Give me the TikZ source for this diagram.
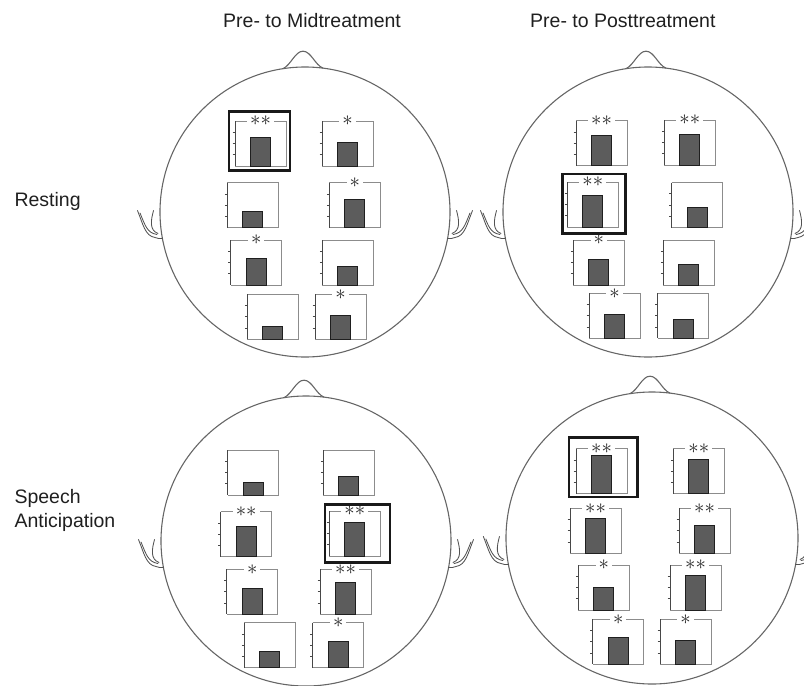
\documentclass[tikz,border=0pt]{standalone}
\usepackage{fontspec}
\setmainfont{Liberation Sans}
\tikzset{
 headline/.style={draw=black!60, line width=1.1pt},
 earline/.style={draw=black!68, line width=0.85pt, line cap=round},
 boxline/.style={draw=black!45, line width=0.75pt},
 axisline/.style={draw=black!72, line width=0.8pt},
 barfill/.style={fill=black!64, draw=black!88, line width=0.8pt},
 starlbl/.style={fill=white, inner xsep=3pt, inner ysep=0.5pt, text=black!85, font=\fontsize{21}{21}\selectfont},
 hilite/.style={draw=black!90, line width=2.8pt},
 lbl/.style={font=\fontsize{19.5}{23}\selectfont, text=black!88, inner sep=0pt}
}
\newcommand\barchart[4]{%
 \begin{scope}[shift={(#1,#2)}]
 \draw[boxline] (0,0) -- (51,0) -- (51,45) -- (0,45);
 \draw[axisline] (0,0) -- (0,45);
 \foreach \t in {11.25,22.5,33.75} \draw[axisline] (-2.5,\t) -- (0,\t);
 \draw[barfill] (15.3,{#3-#2}) rectangle (35.3,45);
 \ifnum#4>0 \node[starlbl] at (25.5,0) {\ifnum#4=1 $\ast$\else ${\ast}{\ast}$\fi};\fi
 \end{scope}}
\newcommand\earshape{%
 \draw[earline] (-167.5,-1.5) .. controls (-162,12) and (-160,24) .. (-150,25.5) .. controls (-147,26.5) and (-145,27) .. (-142.6,26.5);
 \draw[earline] (-165,1) .. controls (-160,13) and (-158,21) .. (-148,22.5);
 \draw[earline] (-151.5,-1.5) .. controls (-154,8) and (-156,18) .. (-147,21.5);}
\newcommand\headshape[3]{%
 \begin{scope}[shift={(#1,#2)}]
 \draw[headline] (0,0) circle[radius=#3];
 \draw[headline] (-22,{-#3*sqrt(1-(22/#3)^2)}) .. controls (-14,{-#3-2}) and (-10,{-#3-15.8}) .. (-2,{-#3-15.8}) .. controls (6,{-#3-15.8}) and (10,{-#3-2}) .. (18,{-#3*sqrt(1-(18/#3)^2)});
 \begin{scope}[xscale=#3/145, yscale=1]\earshape\end{scope}
 \begin{scope}[xscale=-#3/145, yscale=1]\earshape\end{scope}
 \end{scope}}
\begin{document}
\begin{tikzpicture}[x=1pt,y=-1pt]
\useasboundingbox (0,0) rectangle (804,686);
\clip (0,0) rectangle (804,686);
% titles
\node[lbl, anchor=base west] (t1) at (223,27.7) {Pre- to Midtreatment};
\node[lbl, anchor=base west] (t2) at (530,27.7) {Pre- to Posttreatment};
\node[lbl, anchor=base west] (rest) at (14.3,206.7) {Resting};
\node[lbl, anchor=base west] (sp1) at (14.3,503) {Speech};
\node[lbl, anchor=base west] (sp2) at (14.3,527) {Anticipation};
% heads
\headshape{305}{212}{145}
\headshape{648}{212}{145}
\headshape{306}{541}{145}
\headshape{652}{538}{146}
% head 1
\barchart{235}{121}{137.3}{2}
\barchart{322}{121}{142}{1}
\barchart{227.3}{182.7}{211}{0}
\barchart{329.3}{182.7}{199}{1}
\barchart{230.7}{240}{258.3}{1}
\barchart{322.3}{240}{266.7}{0}
\barchart{247.3}{294.3}{326}{0}
\barchart{315}{294.3}{315.3}{1}
\draw[hilite] (229,111.7) rectangle (290,170.7);
% head 2
\barchart{576}{120.7}{135.3}{2}
\barchart{664.3}{120}{134}{2}
\barchart{567.3}{182}{195.3}{2}
\barchart{671.7}{182.5}{207.3}{0}
\barchart{573.3}{240}{259}{1}
\barchart{663.3}{240}{264.7}{0}
\barchart{589}{293.3}{314.3}{1}
\barchart{657.7}{293.3}{319}{0}
\draw[hilite] (562.7,174) rectangle (625.7,233.3);
% head 3
\barchart{227.7}{450}{482.7}{0}
\barchart{323.3}{450}{476.7}{0}
\barchart{220.7}{511.7}{526.7}{2}
\barchart{329.3}{511}{522}{2}
\barchart{226.7}{569.3}{588.3}{1}
\barchart{320}{569.3}{582.3}{2}
\barchart{244.3}{622.7}{651.3}{0}
\barchart{312.7}{622.7}{641}{1}
\draw[hilite] (325,504.3) rectangle (390,562.3);
% head 4
\barchart{576}{448.7}{455.3}{2}
\barchart{673.3}{448.7}{459.3}{2}
\barchart{570}{508.3}{518.3}{2}
\barchart{679}{508.3}{525}{2}
\barchart{578.3}{565}{587.3}{1}
\barchart{670}{565}{575.7}{2}
\barchart{592.7}{619.3}{637.3}{1}
\barchart{660}{619.3}{640}{1}
\draw[hilite] (569,437.7) rectangle (637.3,497);
\end{tikzpicture}
\end{document}
